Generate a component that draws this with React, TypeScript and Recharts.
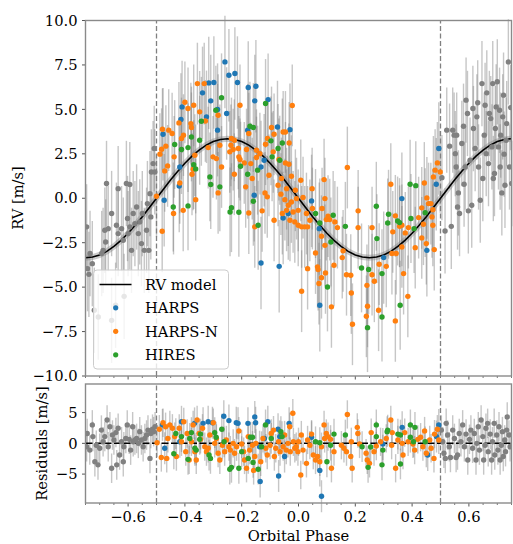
import { ComposedChart, Scatter, XAxis, YAxis, ErrorBar, ReferenceLine } from 'recharts'

type Pt = [number, number]

// RV model (phase, m/s)
const MODEL_PHASE = [
  -0.75, -0.725, -0.7, -0.675, -0.65, -0.625, -0.6, -0.575, -0.55, -0.525, -0.5,
  -0.475, -0.45, -0.425, -0.4, -0.375, -0.35, -0.325, -0.3, -0.275, -0.25,
  -0.225, -0.2, -0.175, -0.15, -0.125, -0.1, -0.075, -0.05, -0.025, 0,
  0.025, 0.05, 0.075, 0.1, 0.125, 0.15, 0.175, 0.2, 0.225, 0.25,
  0.275, 0.3, 0.325, 0.35, 0.375, 0.4, 0.425, 0.45, 0.475, 0.5,
  0.525, 0.55, 0.575, 0.6, 0.625, 0.65, 0.675, 0.7, 0.725, 0.75,
]
const MODEL_RV = [
  -3.35, -3.31, -3.19, -2.99, -2.71, -2.37, -1.97, -1.52, -1.04, -0.52, 0,
  0.52, 1.04, 1.52, 1.97, 2.37, 2.71, 2.99, 3.19, 3.31, 3.35,
  3.31, 3.19, 2.99, 2.71, 2.37, 1.97, 1.52, 1.04, 0.52, 0,
  -0.52, -1.04, -1.52, -1.97, -2.37, -2.71, -2.99, -3.19, -3.31, -3.35,
  -3.31, -3.19, -2.99, -2.71, -2.37, -1.97, -1.52, -1.04, -0.52, 0,
  0.52, 1.04, 1.52, 1.97, 2.37, 2.71, 2.99, 3.19, 3.31, 3.35,
]

// phase-folded RVs, top panel
const HARPS_RV: Pt[] = [
  [-0.477, 3.6], [-0.473, -0.11], [-0.42, 0.69], [-0.418, 1.76], [-0.414, 4.43], [-0.41, 5.14],
  [-0.338, 5.93], [-0.316, 6.49], [-0.309, 5.48], [-0.324, 4.58], [-0.298, 6.51], [-0.285, 4.99],
  [-0.285, 3.83], [-0.259, 7.67], [-0.245, 6.92], [-0.224, 7.02], [-0.215, 6.51], [-0.177, 6.23],
  [-0.15, 6.3], [-0.154, 5.48], [-0.107, 5.55], [-0.253, 4.77], [-0.179, 3.83], [-0.074, 4.01],
  [-0.03, 3.86], [-0.121, 2.14], [-0.132, 1.76], [-0.156, 0.17], [-0.054, -1.11], [-0.036, -0.86],
  [0.046, -0.15], [0.073, -1.71], [-0.132, -3.64], [-0.068, -3.83], [0.075, -6.02],
  [0.3, -3.34], [0.364, -0.02], [0.452, -2.93], [0.485, 0.79], [0.494, 2.8],
]
const HARPSN_RV: Pt[] = [
  [-0.48, -1.86], [-0.5, 0.11], [-0.471, 1.54], [-0.461, 1.82], [-0.488, 2.48], [-0.482, 2.76],
  [-0.467, 2.93], [-0.479, 3.88], [-0.457, 3.83], [-0.445, 3.64], [-0.438, 2.33], [-0.44, -0.86],
  [-0.406, -0.68], [-0.418, 0.86], [-0.421, 4.24], [-0.412, 3.36], [-0.405, 3.55], [-0.4, 5.4],
  [-0.389, 5.05], [-0.379, 4.2], [-0.377, 3.98], [-0.369, 5.23], [-0.365, 2.42], [-0.362, -0.08],
  [-0.356, 6.45], [-0.332, 6.45], [-0.348, 4.86], [-0.375, 1.35], [-0.371, 1.63], [-0.328, 4.35],
  [-0.318, 2.85], [-0.301, 2.33], [-0.283, 4.67], [-0.283, 0.3], [-0.277, 2.98], [-0.271, 1.76],
  [-0.289, 2.23],
  [-0.206, 5.23], [-0.022, 5.22], [-0.095, 3.98], [-0.054, 3.73], [-0.046, 3.73], [-0.086, 3.6],
  [-0.109, 3.36], [-0.175, 3.64], [-0.033, 3.11], [-0.116, 3.04], [-0.236, 3.36], [-0.226, 3.26],
  [-0.238, 2.98], [-0.23, 2.74], [-0.212, 2.8], [-0.242, 2.61], [-0.183, 2.74], [-0.148, 2.7],
  [-0.136, 2.51], [-0.21, 2.33], [-0.206, 2.18], [-0.191, 1.99], [-0.168, 1.95], [-0.148, 2.29],
  [-0.089, 2.61], [-0.069, 2.18], [-0.046, 1.99], [-0.034, 1.91], [-0.025, 1.24], [0.008, 1.01],
  [-0.104, 1.29], [-0.06, 1.11], [-0.072, 0.73], [-0.042, 0.54], [-0.011, 0.45], [-0.186, 0.64],
  [-0.163, 1.11], [-0.226, 1.35], [-0.118, 0.3], [-0.11, 0.08], [-0.062, 0.23], [-0.048, -0.08],
  [-0.025, -0.21], [-0.007, -0.02], [0.016, 0.04], [0.048, 0.54], [0.09, 1.05], [0.049, -0.58],
  [0.028, -0.86], [-0.001, -0.68], [-0.019, -0.77], [-0.036, -0.39], [-0.042, -0.68], [-0.057, -0.86],
  [-0.03, -1.24], [-0.013, -1.33], [-0.001, -1.52], [0.011, -1.61], [0.022, -1.61], [0.04, -1.24],
  [0.032, -1.61], [-0.086, -1.24], [-0.128, -0.71], [-0.175, -0.83], [-0.154, -1.61], [0.093, -0.02],
  [0.098, -1.2], [0.11, -1.2], [0.128, -1.33], [0.137, -1.65], [0.083, -0.58], [0.104, -1.01],
  [0.081, -2.14], [0.093, -2.65], [0.06, -3.08], [0.067, -3.86], [0.069, -4.01], [0.081, -4.47],
  [0.072, -4.8], [0.095, -4.2], [0.116, -6.11], [0.125, -3.77], [0.032, -3.96], [0.011, -5.23],
  [0.157, -2.96], [0.154, -3.34], [0.172, 1.73], [0.169, -4.3], [0.184, -4.33], [0.186, -5.33],
  [0.19, -7.09], [0.21, -0.71], [0.21, -1.65], [0.243, -6.08], [0.239, -6.64],
  [0.325, 0.79], [0.341, -0.99], [0.332, -1.89], [0.356, -1.58], [0.364, -1.52], [0.376, -1.95],
  [0.387, -1.65], [0.423, -1.09], [0.434, -0.54], [0.452, 0.02], [0.458, -0.3], [0.466, -0.3],
  [0.473, -0.64], [0.47, -1.05], [0.473, -1.52], [0.44, -1.46], [0.443, 0.86], [0.434, -2.23],
  [0.45, -2.55], [0.411, -2.78], [0.478, -2.89], [0.475, 1.2], [0.481, 1.58], [0.489, 1.99],
  [0.499, 1.48], [0.259, -1.65], [0.329, -3.11], [0.344, -3.11], [0.364, -2.74], [0.284, -3.71],
  [0.309, -3.83], [0.259, -4.3], [0.267, -4.67], [0.37, -4.24], [0.241, -4.9], [0.385, -5.52],
  [0.282, -6.3], [0.341, -6.9],
]
const HIRES_RV: Pt[] = [
  [-0.441, -0.49], [-0.436, 3.02], [-0.412, 2.74], [-0.389, -0.43], [-0.389, 2.85], [-0.377, 3.45],
  [-0.369, 1.89], [-0.362, 1.65], [-0.348, 3.26], [-0.342, 4.33], [-0.312, 1.2], [-0.309, 0.77],
  [-0.291, 4.95], [-0.271, 5.65], [-0.277, 0.64],
  [-0.116, 5.33], [-0.171, 4.05], [-0.159, 3.98], [-0.097, 3.23], [-0.072, 2.8], [-0.057, 3.11],
  [-0.093, 2.33], [-0.066, 2.14], [-0.204, 1.8], [-0.179, 1.35], [-0.144, 1.58], [-0.159, -0.17],
  [-0.236, -0.53], [-0.241, -0.77], [-0.21, -0.79], [-0.142, -1.52], [0.06, -0.86], [0.075, -1.39],
  [0.122, -0.96], [0.114, -2.46], [0.165, -1.58], [0.222, -3.92], [0.247, -4.01], [0.102, -4.99],
  [0.243, -7.28],
  [0.274, -0.45], [0.317, -0.9], [0.314, -1.39], [0.349, -1.28], [0.356, -1.37], [0.393, 0.79],
  [0.413, 0.71], [0.396, -1.14], [0.407, -1.71], [0.446, -0.81], [0.276, -2.27], [0.294, -4.24],
  [0.294, -6.68], [0.358, -6.02],
]
// grey repeated points outside [-0.5, 0.5]
const WRAP_RV: Pt[] = [
  [-0.746, -1.61], [-0.743, -3.96], [-0.726, -3.68], [-0.738, -4.28], [-0.734, -3.11], [-0.719, -6.3],
  [-0.705, -6.68], [-0.693, -3.11], [-0.688, -2.93], [-0.679, -2.46], [-0.682, -1.8], [-0.67, -1.71],
  [-0.676, 0.83], [-0.658, -0.86], [-0.658, -6.87], [-0.644, -6.02], [-0.641, -1.52], [-0.635, 0.54],
  [-0.635, -1.99], [-0.623, -1.71], [-0.617, -2.36], [-0.614, -5.52], [-0.606, 0.83], [-0.602, -1.14],
  [-0.6, -1.99], [-0.594, 0.77], [-0.594, -1.61], [-0.588, -2.93], [-0.582, -0.86], [-0.576, -1.43],
  [-0.57, -0.49], [-0.564, -1.99], [-0.559, -1.33], [-0.553, -2.55], [-0.55, -0.86], [-0.543, -2.93],
  [-0.535, -1.8], [-0.532, -0.3], [-0.523, 0.26], [-0.527, -2.93], [-0.518, 1.48], [-0.512, 1.95],
  [-0.506, 1.48], [-0.508, 2.8], [-0.52, -1.05],
  [0.505, 1.16], [0.516, -1.84], [0.522, 3.83], [0.532, 2.93], [0.538, -1.58], [0.543, 3.83],
  [0.548, 3.55], [0.552, 2.51], [0.555, 1.76], [0.557, 3.55], [0.56, -0.49], [0.563, 0.3],
  [0.567, -0.86], [0.575, 3.08], [0.581, 4.05], [0.583, 0.79], [0.587, 1.76], [0.59, 5.52],
  [0.595, 4.77], [0.598, -0.71], [0.604, 2.14], [0.61, -0.39], [0.614, 5.05], [0.616, 3.92],
  [0.622, 2.8], [0.628, 4.58], [0.631, 5.37], [0.634, 1.76], [0.64, -0.11], [0.646, 6.45],
  [0.649, 1.11], [0.654, 3.55], [0.657, 5.23], [0.661, 2.51], [0.663, 5.93], [0.669, 1.95],
  [0.672, 4.77], [0.677, 4.48], [0.681, 2.89], [0.684, 6.45], [0.686, 1.11], [0.69, 1.39],
  [0.693, 3.92], [0.696, 5.14], [0.7, 6.55], [0.704, 2.89], [0.708, 4.95], [0.71, 1.76],
  [0.712, 3.55], [0.716, 0.3], [0.719, 4.58], [0.722, 5.8], [0.724, 2.48], [0.727, 0.73],
  [0.731, 3.26], [0.733, 4.2], [0.739, 7.67], [0.743, 1.76], [0.747, 5.1], [0.751, 0.83],
]

// residuals, bottom panel
const HARPS_RES: Pt[] = [
  [-0.479, 3.0], [-0.471, -0.8], [-0.418, 0.25], [-0.412, 3.5], [-0.366, 3.25], [-0.336, 3.25],
  [-0.318, 3.5], [-0.303, 3.35], [-0.263, 4.4], [-0.245, 3.7], [-0.219, 3.35], [-0.213, 3.25],
  [-0.178, 3.25], [-0.154, 4.3], [-0.151, 3.35], [-0.137, -0.55], [-0.135, -6.2], [-0.12, 0.8],
  [-0.108, 3.5], [-0.072, 2.3], [-0.07, -5.3], [-0.066, 1.1], [-0.049, -2.15], [-0.033, 3.25],
  [0.046, 1.0], [0.075, -4.4], [0.081, -8.6], [0.297, -0.1], [0.365, 2.6], [0.455, -1.9],
  [0.486, 1.1], [0.494, 3.0],
]
const HARPSN_RES: Pt[] = [
  [-0.498, 0.1], [-0.49, 2.3], [-0.483, -2.3], [-0.477, 3.35], [-0.468, 2.7], [-0.464, -2.45],
  [-0.46, 0.8], [-0.453, 3.0], [-0.444, 2.45], [-0.436, 1.1], [-0.43, -2.15], [-0.42, 2.45],
  [-0.412, 0.25], [-0.404, 3.5], [-0.397, -1.35], [-0.392, 1.6], [-0.385, -2.7], [-0.377, 0.25],
  [-0.371, 3.0], [-0.365, -1.35], [-0.36, -2.7], [-0.357, 3.8], [-0.35, 1.6], [-0.345, 0.65],
  [-0.338, 2.45], [-0.33, -0.55], [-0.324, -1.35], [-0.318, -0.8], [-0.312, 1.35], [-0.3, 3.35],
  [-0.295, 0], [-0.289, 0.8], [-0.283, -1.6], [-0.277, -2.7], [-0.268, -0.3], [-0.26, -1.35],
  [-0.254, 0.55], [-0.245, -0.55], [-0.24, -1.1], [-0.23, 0], [-0.225, -1.6], [-0.218, -0.55],
  [-0.21, 2.0], [-0.2, -0.1], [-0.193, -1.35], [-0.19, -2.7], [-0.183, -4.05], [-0.177, 1.1],
  [-0.172, -1.1], [-0.162, -0.3], [-0.158, -4.4], [-0.154, -2.15], [-0.15, 0], [-0.133, -3.0],
  [-0.125, 0.8], [-0.115, -0.8], [-0.11, -1.9], [-0.1, -0.3], [-0.096, 1.6], [-0.088, 2.15],
  [-0.085, -2.15], [-0.08, -0.8], [-0.07, 0.25], [-0.065, -1.35], [-0.054, -0.55], [-0.049, 1.35],
  [-0.043, -1.1], [-0.037, 0], [-0.031, 2.7], [-0.029, -1.35], [-0.02, 4.9], [-0.018, 0.25],
  [-0.013, -0.8], [-0.008, -0.55], [-0.002, -1.35],
  [0, 0.25], [0.008, -5.15], [0.01, 1.35], [0.016, -1.1], [0.028, -3.25], [0.032, 0.55],
  [0.04, -0.3], [0.046, 1.5], [0.052, -1.9], [0.06, -2.7], [0.067, -2.15], [0.075, -3.0],
  [0.081, -0.55], [0.09, 3.0], [0.092, 0.8], [0.098, 1.6], [0.104, 1.1], [0.113, 0.65],
  [0.116, -4.05], [0.125, -1.35], [0.151, -0.3], [0.16, -0.8], [0.169, -1.35], [0.172, 4.7],
  [0.184, -2.15], [0.186, 0.25], [0.189, -4.05], [0.207, 2.6], [0.209, 1.6], [0.215, -0.1],
  [0.238, -1.6], [0.242, -2.7], [0.25, -3.25], [0.256, 1.75], [0.266, -1.35], [0.274, -0.45],
  [0.289, 0.25], [0.309, 0.8], [0.325, 3.8], [0.328, -0.3], [0.33, 1.75], [0.342, -4.05],
  [0.35, 0.55], [0.365, 0], [0.368, -1.9], [0.374, 1.75], [0.386, 0.25], [0.403, -0.1],
  [0.409, -1.1], [0.42, 0.65], [0.43, 1.0], [0.438, -0.55], [0.444, 2.0], [0.45, -1.6],
  [0.462, 0.55], [0.467, -0.8], [0.477, -2.45], [0.479, 1.5], [0.489, 2.3], [0.494, 0.55],
]
const HIRES_RES: Pt[] = [
  [-0.432, 1.6], [-0.439, -1.7], [-0.412, 1.1], [-0.389, -2.6], [-0.383, 0.8], [-0.377, 1.75],
  [-0.365, -0.8], [-0.36, -1.1], [-0.348, 0.65], [-0.345, 1.5], [-0.315, -1.9], [-0.31, -2.45],
  [-0.295, 1.75], [-0.29, 1.0], [-0.27, 2.3], [-0.262, 0.25], [-0.242, -4.2], [-0.236, -3.9],
  [-0.21, -4.05], [-0.2, -1.35], [-0.177, -2.45], [-0.169, 1.0], [-0.162, 1.0], [-0.16, -3.1],
  [-0.142, -4.2], [-0.13, -0.55], [-0.116, 3.0], [-0.096, 0.8], [-0.062, 1.9], [-0.058, 1.1],
  [0.06, 0.25], [0.075, 0.1], [0.1, -3.0], [0.113, -0.3], [0.125, 1.5], [0.165, 1.35],
  [0.224, -0.55], [0.245, -3.9], [0.254, -0.6], [0.274, 1.1], [0.274, 3.0], [0.294, -3.5],
  [0.297, -1.1], [0.312, 1.9], [0.314, 2.15], [0.35, 1.5], [0.359, 1.35], [0.359, -3.35],
  [0.394, 3.0], [0.394, 1.0], [0.405, 0.25], [0.41, 2.6], [0.446, 0.25],
]
const WRAP_RES: Pt[] = [
  [-0.744, 1.6], [-0.746, -0.55], [-0.735, -1.1], [-0.726, 3.0], [-0.724, 1.1], [-0.717, -3.0],
  [-0.706, -3.5], [-0.712, -0.3], [-0.7, -0.8], [-0.694, 2.15], [-0.688, 0.25], [-0.682, 1.1],
  [-0.674, 3.8], [-0.67, -0.55], [-0.664, 2.7], [-0.658, -4.05], [-0.655, 1.35], [-0.65, 0.55],
  [-0.643, 1.75], [-0.64, -3.5], [-0.635, 2.45], [-0.63, -1.9], [-0.623, 0.25], [-0.617, -3.0],
  [-0.615, -0.55], [-0.608, 0.8], [-0.603, 3.0], [-0.596, 0.65], [-0.591, -1.1], [-0.584, 2.7],
  [-0.582, 0.25], [-0.576, 0.55], [-0.57, 0.8], [-0.564, 0], [-0.559, 1.9], [-0.553, 0.55],
  [-0.547, -0.55], [-0.541, 0.8], [-0.535, 1.35], [-0.53, 2.15], [-0.523, -2.45], [-0.52, 1.6],
  [-0.514, 2.3], [-0.51, 1.9], [-0.505, 2.7],
  [0.503, 2.15], [0.508, 0.25], [0.512, -1.6], [0.517, -2.45], [0.52, 3.25], [0.525, 1.35],
  [0.531, -0.55], [0.535, -2.3], [0.543, 2.15], [0.549, 0.8], [0.555, -2.3], [0.56, -1.9],
  [0.566, 1.6], [0.572, 0.25], [0.578, 3.0], [0.584, -0.55], [0.59, 1.5], [0.596, -2.7],
  [0.602, 0.65], [0.607, 2.15], [0.613, -0.8], [0.619, 1.6], [0.625, -2.7], [0.628, 0],
  [0.633, 2.7], [0.637, -1.1], [0.643, 3.8], [0.649, 1.1], [0.652, -2.7], [0.657, -0.3],
  [0.66, 2.45], [0.666, 3.25], [0.668, -1.35], [0.675, 1.5], [0.68, -2.7], [0.683, 0.25],
  [0.689, 3.25], [0.691, -1.9], [0.698, 1.35], [0.702, -1.1], [0.706, 2.7], [0.71, -2.7],
  [0.714, -0.3], [0.718, 1.9], [0.721, -2.15], [0.726, 0.55], [0.729, -1.35], [0.733, 2.15],
  [0.735, 4.3], [0.741, 1.35], [0.745, -0.55],
]

// typical 1-sigma uncertainties (m/s)
const ERR_HARPS = 2.6
const ERR_HARPSN = 2.3
const ERR_HIRES = 2.5
const ERR_WRAP = 2.4

const X_TICKS = [
  -0.75, -0.7, -0.65, -0.6, -0.55, -0.5, -0.45, -0.4, -0.35, -0.3, -0.25, -0.2, -0.15, -0.1, -0.05, 0,
  0.05, 0.1, 0.15, 0.2, 0.25, 0.3, 0.35, 0.4, 0.45, 0.5, 0.55, 0.6, 0.65, 0.7, 0.75,
]
const RV_TICKS = [-10, -7.5, -5, -2.5, 0, 2.5, 5, 7.5, 10]
const RES_TICKS = [-5, 0, 5]

const FONT = '"DejaVu Serif", serif'
const FS = 14.7
const C_HARPS = '#1f77b4'
const C_HARPSN = '#ff7f0e'
const C_HIRES = '#2ca02c'
const C_WRAP = '#808080'
const SPINE = '#8a8a8a'

const rows = (pts: Pt[], err = 0) => pts.map(([x, y]) => ({ x, y, err }))
const modelRows = MODEL_PHASE.map((x, i) => ({ x, y: MODEL_RV[i] }))
const minus = (s: string) => s.replace('-', '\u2212')

const dot = (color: string) => (p: any) => <circle cx={p.cx} cy={p.cy} r={2.7} fill={color} />
const none = () => <g />

function PhaseTick(props: any) {
  const { x, y, payload, labels } = props
  const v = payload.value
  const major = Math.abs(v / 0.2 - Math.round(v / 0.2)) < 1e-6
  return (
    <g>
      <line x1={x} x2={x} y1={y} y2={y + (major ? 3.5 : 2)} stroke="#555" strokeWidth={major ? 1 : 0.8} />
      {labels && major && (
        <text x={x} y={y + 18.5} textAnchor="middle" fill="#000" fontSize={FS} fontFamily={FONT}>
          {minus(v.toFixed(1))}
        </text>
      )}
    </g>
  )
}

function bars(pts: Pt[], err: number, key: string) {
  return (
    <Scatter key={key} data={rows(pts, err)} shape={none} isAnimationActive={false}>
      <ErrorBar dataKey="err" direction="y" width={0} stroke="#808080" strokeOpacity={0.45}
        strokeWidth={1.4} isAnimationActive={false} />
    </Scatter>
  )
}

function TopPanel() {
  return (
    <ComposedChart width={513} height={382} margin={{ top: 20.5, right: 1.5, bottom: 0, left: 0 }}>
      <XAxis type="number" dataKey="x" domain={[-0.75, 0.75]} ticks={X_TICKS} interval={0}
        allowDataOverflow axisLine={false} tickLine={false} tickSize={0} tickMargin={0} height={6}
        tick={(p: any) => <PhaseTick {...p} labels={false} />} />
      <YAxis type="number" dataKey="y" domain={[-10, 10]} ticks={RV_TICKS} interval={0}
        allowDataOverflow width={85.5} axisLine={false} tickSize={3.5} tickMargin={4.5}
        tickLine={{ stroke: '#555' }} tick={{ fill: '#000', fontSize: FS, fontFamily: FONT }}
        tickFormatter={(v: number) => minus(v.toFixed(1))} />
      <ReferenceLine x={-0.5} stroke={C_WRAP} strokeWidth={1.3} strokeDasharray="5 2.5" />
      <ReferenceLine x={0.5} stroke={C_WRAP} strokeWidth={1.3} strokeDasharray="5 2.5" />
      {bars(WRAP_RV, ERR_WRAP, 'bw')}
      {bars(HARPS_RV, ERR_HARPS, 'bh')}
      {bars(HARPSN_RV, ERR_HARPSN, 'bn')}
      {bars(HIRES_RV, ERR_HIRES, 'bi')}
      <Scatter data={modelRows} shape={none} lineType="joint" isAnimationActive={false}
        line={{ stroke: '#7f7f7f', strokeWidth: 6, strokeOpacity: 0.4 }} />
      <Scatter data={modelRows} shape={none} lineType="joint" isAnimationActive={false}
        line={{ stroke: '#000', strokeWidth: 1.6 }} />
      <Scatter data={rows(WRAP_RV)} shape={dot(C_WRAP)} isAnimationActive={false} />
      <Scatter data={rows(HARPS_RV)} shape={dot(C_HARPS)} isAnimationActive={false} />
      <Scatter data={rows(HARPSN_RV)} shape={dot(C_HARPSN)} isAnimationActive={false} />
      <Scatter data={rows(HIRES_RV)} shape={dot(C_HIRES)} isAnimationActive={false} />
    </ComposedChart>
  )
}

function BottomPanel() {
  return (
    <ComposedChart width={513} height={180} margin={{ top: 20, right: 1.5, bottom: 0, left: 0 }}>
      <XAxis type="number" dataKey="x" domain={[-0.75, 0.75]} ticks={X_TICKS} interval={0}
        allowDataOverflow axisLine={false} tickLine={false} tickSize={0} tickMargin={0} height={41}
        tick={(p: any) => <PhaseTick {...p} labels />} />
      <YAxis type="number" dataKey="y" domain={[-9.7, 9.65]} ticks={RES_TICKS} interval={0}
        allowDataOverflow width={85.5} axisLine={false} tickSize={3.5} tickMargin={4.5}
        tickLine={{ stroke: '#555' }} tick={{ fill: '#000', fontSize: FS, fontFamily: FONT }}
        tickFormatter={(v: number) => minus(v.toFixed(0))} />
      <ReferenceLine x={-0.5} stroke={C_WRAP} strokeWidth={1.3} strokeDasharray="5 2.5" />
      <ReferenceLine x={0.5} stroke={C_WRAP} strokeWidth={1.3} strokeDasharray="5 2.5" />
      {bars(WRAP_RES, ERR_WRAP, 'bw')}
      {bars(HARPS_RES, ERR_HARPS, 'bh')}
      {bars(HARPSN_RES, ERR_HARPSN, 'bn')}
      {bars(HIRES_RES, ERR_HIRES, 'bi')}
      <ReferenceLine y={0} stroke="#000" strokeWidth={1.5} strokeDasharray="7 2.5" />
      <Scatter data={rows(WRAP_RES)} shape={dot(C_WRAP)} isAnimationActive={false} />
      <Scatter data={rows(HARPS_RES)} shape={dot(C_HARPS)} isAnimationActive={false} />
      <Scatter data={rows(HARPSN_RES)} shape={dot(C_HARPSN)} isAnimationActive={false} />
      <Scatter data={rows(HIRES_RES)} shape={dot(C_HIRES)} isAnimationActive={false} />
    </ComposedChart>
  )
}

const LEGEND = [
  { label: 'HARPS', color: C_HARPS, y: 307.8 },
  { label: 'HARPS-N', color: C_HARPSN, y: 331.3 },
  { label: 'HIRES', color: C_HIRES, y: 354.8 },
]

export default function App() {
  return (
    <div style={{ position: 'absolute', left: 0, top: 0, width: 513, height: 544, background: '#fff' }}>
      <div style={{ position: 'absolute', left: 0, top: 0 }}>
        <TopPanel />
      </div>
      <div style={{ position: 'absolute', left: 0, top: 364 }}>
        <BottomPanel />
      </div>
      <svg width={513} height={544} style={{ position: 'absolute', left: 0, top: 0, pointerEvents: 'none' }}
        fontFamily={FONT} fontSize={FS}>
        <rect x={85.5} y={20.5} width={426} height={355.5} fill="none" stroke={SPINE} strokeWidth={1.4} />
        <rect x={85.5} y={384} width={426} height={119} fill="none" stroke={SPINE} strokeWidth={1.4} />
        <text transform="translate(22.5,198) rotate(-90)" textAnchor="middle" fill="#000">RV [m/s]</text>
        <text transform="translate(46.7,443.5) rotate(-90)" textAnchor="middle" fill="#000">Residuals [m/s]</text>
        <text x={298.5} y={540.5} textAnchor="middle" fill="#000">Orbital Phase</text>
        <rect x={93.5} y={270} width={135} height={99} rx={3.5} fill="#fff" fillOpacity={0.8}
          stroke="#cccccc" strokeWidth={1} />
        <line x1={99.5} x2={131.5} y1={284.5} y2={284.5} stroke="#000" strokeWidth={1.6} />
        <text x={145} y={289.8} fill="#000">RV model</text>
        {LEGEND.map((d) => (
          <g key={d.label}>
            <circle cx={115.7} cy={d.y} r={2.6} fill={d.color} />
            <text x={145} y={d.y + 5.3} fill="#000">{d.label}</text>
          </g>
        ))}
      </svg>
    </div>
  )
}
